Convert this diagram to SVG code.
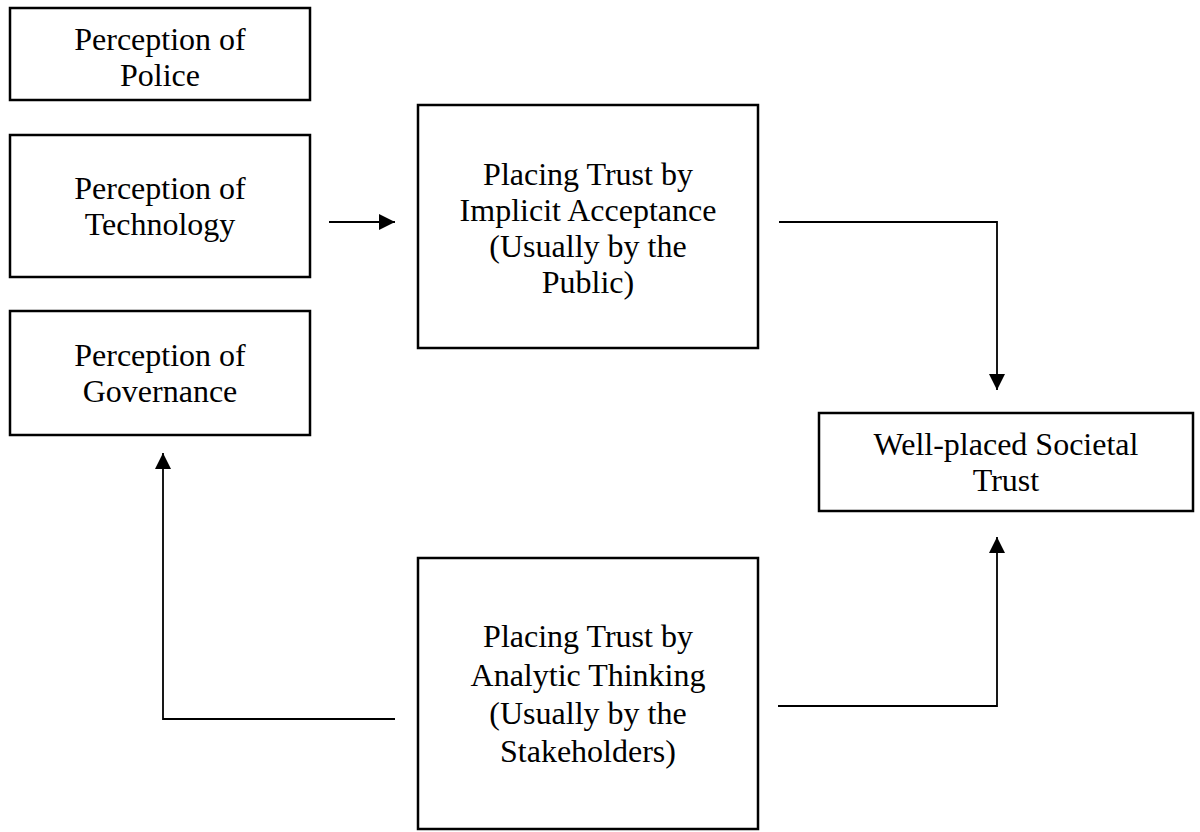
<svg xmlns="http://www.w3.org/2000/svg" width="1200" height="832" viewBox="0 0 1200 832">
<style>
.box{fill:#fff;stroke:#000;stroke-width:2.5}
.lbl{font-family:"Liberation Serif","Times New Roman",serif;font-size:32px;fill:#000;text-anchor:middle}
.con{fill:none;stroke:#000;stroke-width:1.8}
</style>
<defs>
<marker id="ah" markerUnits="userSpaceOnUse" markerWidth="16" markerHeight="16" viewBox="0 0 16 16" refX="16" refY="8" orient="auto">
<path d="M0,0 L16,8 L0,16 z" fill="#000"/>
</marker>
</defs>
<rect width="1200" height="832" fill="#fff"/>
<g id="police">
<rect class="box" x="10" y="8" width="300" height="92"/>
<text class="lbl" x="160" y="50">Perception of</text>
<text class="lbl" x="160" y="86">Police</text>
</g>
<g id="technology">
<rect class="box" x="10" y="135" width="300" height="142"/>
<text class="lbl" x="160" y="199">Perception of</text>
<text class="lbl" x="160" y="235">Technology</text>
</g>
<g id="governance">
<rect class="box" x="10" y="311" width="300" height="124"/>
<text class="lbl" x="160" y="366">Perception of</text>
<text class="lbl" x="160" y="402">Governance</text>
</g>
<g id="implicit">
<rect class="box" x="418" y="105" width="340" height="243"/>
<text class="lbl" x="588" y="185">Placing Trust by</text>
<text class="lbl" x="588" y="221">Implicit Acceptance</text>
<text class="lbl" x="588" y="257">(Usually by the</text>
<text class="lbl" x="588" y="293">Public)</text>
</g>
<g id="analytic">
<rect class="box" x="418" y="558" width="340" height="271"/>
<text class="lbl" x="588" y="647">Placing Trust by</text>
<text class="lbl" x="588" y="686">Analytic Thinking</text>
<text class="lbl" x="588" y="724">(Usually by the</text>
<text class="lbl" x="588" y="762">Stakeholders)</text>
</g>
<g id="societal">
<rect class="box" x="819" y="413" width="374" height="98"/>
<text class="lbl" x="1006" y="455">Well-placed Societal</text>
<text class="lbl" x="1006" y="491">Trust</text>
</g>
<g id="connectors">
<path class="con" d="M329,222 L395,222" marker-end="url(#ah)"/>
<path class="con" d="M779,222 L997,222 L997,390" marker-end="url(#ah)"/>
<path class="con" d="M778,706 L997,706 L997,537" marker-end="url(#ah)"/>
<path class="con" d="M395,719 L163,719 L163,453" marker-end="url(#ah)"/>
</g>
</svg>
